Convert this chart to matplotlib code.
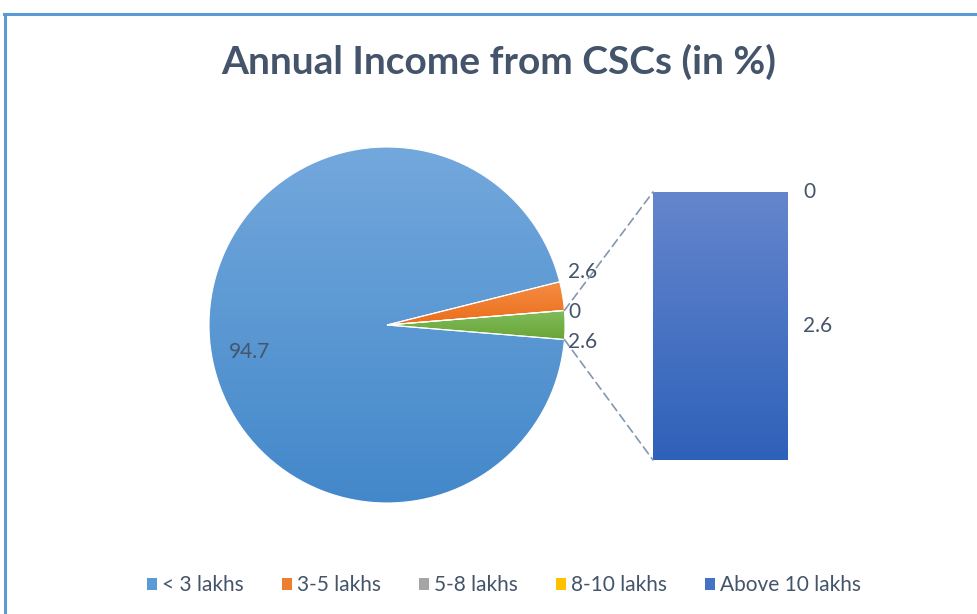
import numpy as np
import matplotlib
matplotlib.use("Agg")
import matplotlib.pyplot as plt
from matplotlib.colors import LinearSegmentedColormap
from matplotlib.patches import Patch, ConnectionPatch
from matplotlib.lines import Line2D

# Data
pie_labels = ["< 3 lakhs", "3-5 lakhs", "5-8 lakhs"]
pie_values = [94.7, 2.6, 0.0]
bar_labels = ["8-10 lakhs", "Above 10 lakhs"]
bar_values = [0.0, 2.6]
title = "Annual Income from CSCs (in %)"

other = sum(bar_values)
main_values = pie_values + [other]

TEXT = "#44546A"
FONT = "Lato"
plt.rcParams["font.family"] = [FONT, "DejaVu Sans"]

W, H = 977, 614
fig = plt.figure(figsize=(W / 100, H / 100), dpi=100)
fig.patch.set_facecolor("white")

# Main axes in pixel units (y up)
ax = fig.add_axes([0, 0, 1, 1])
ax.set_axis_off()

cx, cy, r = 387, 289, 178
other_frac = other / sum(main_values)
start = -180 * other_frac

wedges, _ = ax.pie(main_values, center=(cx, cy), radius=r, startangle=start,
                   counterclock=False, frame=True,
                   wedgeprops=dict(edgecolor="white", linewidth=0.8))

grads = [("#73A8DC", "#4388CA"), ("#F58D45", "#EB6E1B"),
         ("#B5B5B5", "#969696"), ("#80BC5C", "#69A534")]
for w, (top, bot) in zip(wedges, grads):
    w.set_facecolor("none")
    cmap = LinearSegmentedColormap.from_list("g", [bot, top])
    grad = np.linspace(0, 1, 256).reshape(-1, 1)
    if w is wedges[0]:
        ext = (cx - r, cx + r, cy - r, cy + r)
    else:
        th = np.radians([w.theta1, w.theta2])
        ys = np.concatenate([[cy], cy + r * np.sin(np.linspace(th[0], th[1], 20))])
        ext = (cx - r, cx + r, ys.min(), ys.max() + 0.01)
    im = ax.imshow(grad, cmap=cmap, extent=ext, origin="lower",
                   aspect="auto", zorder=1)
    im.set_clip_path(w)
    w.set_zorder(2)

ax.set_xlim(0, W)
ax.set_ylim(0, H)
ax.set_aspect("equal")

# Pie data labels (pixel offsets from pie centre)
label_pos = [(-137, -27), (196, 53), (187, 13), (196, -17)]
for v, (dx, dy) in zip(main_values, label_pos):
    ax.text(cx + dx, cy + dy, f"{v:g}", ha="center", va="center",
            fontsize=15, color=TEXT)

# Secondary bar
bx0, by0, bw, bh = 653, 154, 135, 268
bax = fig.add_axes([bx0 / W, by0 / H, bw / W, bh / H])
bax.set_axis_off()
bax.set_xlim(-0.5, 0.5)
bax.set_ylim(0, other)
bottoms = []
b = 0
for v in reversed(bar_values):
    bottoms.append(b)
    b += v
bottoms = bottoms[::-1]
bars = bax.bar([0] * len(bar_values), bar_values, width=1.0, bottom=bottoms,
               color="none", edgecolor="none")
bcmap = LinearSegmentedColormap.from_list("b", ["#2E61B9", "#6586CD"])
bim = bax.imshow(np.linspace(0, 1, 256).reshape(-1, 1), cmap=bcmap,
                 extent=(-0.5, 0.5, 0, other), origin="lower", aspect="auto")
bim.set_clip_path(bars.patches[-1])
bax.set_xlim(-0.5, 0.5)
bax.set_ylim(0, other)
for v, bt in zip(bar_values, bottoms):
    bax.annotate(f"{v:g}", xy=(0.5, bt + v / 2), xytext=(11, 0),
                 textcoords="offset points", ha="left", va="center",
                 fontsize=15, color=TEXT, annotation_clip=False)

# Connector lines from the "other" slice to the bar
half = np.radians(180 * other_frac)
for sgn, yb in [(1, other), (-1, 0)]:
    p = (cx + r * np.cos(half), cy + sgn * r * np.sin(half))
    con = ConnectionPatch(xyA=p, coordsA=ax.transData, xyB=(-0.5, yb),
                          coordsB=bax.transData, color="#8497B0",
                          linewidth=1.2, linestyle=(0, (5, 3)))
    fig.add_artist(con)

# Title
fig.text(499 / W, (H - 74) / H, title, ha="center", va="baseline",
         fontsize=28, fontweight="bold", color=TEXT)

# Legend
handles = [Patch(facecolor=c, edgecolor="none") for c in
           ["#5B9BD5", "#ED7D31", "#A5A5A5", "#FFC000", "#4472C4"]]
leg = fig.legend(handles, pie_labels + bar_labels, loc="center",
                 bbox_to_anchor=(504 / W, (H - 585) / H), ncol=5,
                 frameon=False, fontsize=15, labelcolor=TEXT,
                 handlelength=0.5, handleheight=0.5, handletextpad=0.25,
                 columnspacing=1.8)

# Chart frame
fig.add_artist(Line2D([5 / W, 5 / W], [0, (H - 14) / H], color="#5B9BD5",
                      linewidth=2.2, transform=fig.transFigure))
fig.add_artist(Line2D([4 / W, 1], [(H - 14) / H, (H - 14) / H], color="#5B9BD5",
                      linewidth=2.2, transform=fig.transFigure))

fig.savefig("out.png", dpi=100)
